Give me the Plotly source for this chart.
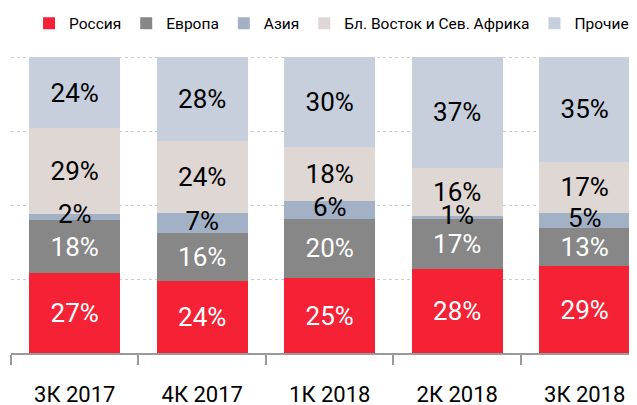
import plotly.graph_objects as go

# Datos (porcentajes por trimestre)
quarters = ['3К 2017', '4К 2017', '1К 2018', '2К 2018', '3К 2018']
russia = [27, 24, 25, 28, 29]
europe = [18, 16, 20, 17, 13]
asia = [2, 7, 6, 1, 5]
mena = [29, 24, 18, 16, 17]
other = [24, 28, 30, 37, 35]

series = [
    ('Россия', russia, '#F52236', '#ffffff'),
    ('Европа', europe, '#878787', '#ffffff'),
    ('Азия', asia, '#A3B1C7', '#000000'),
    ('Бл. Восток и Сев. Африка', mena, '#DED7D4', '#000000'),
    ('Прочие', other, '#C7CFDD', '#000000'),
]

FONT = 'Roboto, Noto Sans, sans-serif'

fig = go.Figure()
for name, vals, color, txtcolor in series:
    # la etiqueta de Азия se dibuja aparte para que quede encima
    fig.add_trace(go.Bar(
        x=quarters,
        y=vals,
        name=name,
        marker=dict(color=color, line=dict(width=0)),
        text=None if name == 'Азия' else [f'{v}%' for v in vals],
        textposition='inside',
        insidetextanchor='middle',
        textangle=0,
        insidetextfont=dict(color=txtcolor, size=26, family=FONT),
    ))

# posición (normalizada al 100%) del centro del segmento Азия
totals = [a + b + c + d + e for a, b, c, d, e in zip(russia, europe, asia, mena, other)]
asia_mid = [100 * (r + e + a / 2) / t for r, e, a, t in zip(russia, europe, asia, totals)]
fig.add_trace(go.Scatter(
    x=quarters,
    y=asia_mid,
    mode='text',
    text=[f'{v}%' for v in asia],
    textposition='middle center',
    textfont=dict(color='#000000', size=26, family=FONT),
    showlegend=False,
    hoverinfo='skip',
))

fig.update_layout(
    width=637,
    height=405,
    margin=dict(l=3, r=8, t=48, b=60, autoexpand=False),
    paper_bgcolor='#ffffff',
    plot_bgcolor='#ffffff',
    barmode='stack',
    barnorm='percent',
    bargap=0.286,
    font=dict(family=FONT, color='#000000'),
    uniformtext=dict(minsize=26, mode='show'),
    legend=dict(
        orientation='h',
        xref='container',
        x=0.033, xanchor='left',
        yref='container',
        y=0.961, yanchor='middle',
        font=dict(size=15.5, family=FONT, color='#000000'),
        traceorder='normal',
        itemclick=False,
    ),
    xaxis=dict(
        range=[-0.5, 4.41],
        showline=True,
        linecolor='#9a9a9a',
        linewidth=2,
        ticks='outside',
        tickson='boundaries',
        ticklen=10,
        tickwidth=2,
        tickcolor='#9a9a9a',
        ticklabelstandoff=21,
        tickfont=dict(size=22, family=FONT, color='#000000'),
        showgrid=False,
    ),
    yaxis=dict(
        range=[0, 100.4],
        tickvals=[0, 25, 50, 75, 100],
        showticklabels=False,
        showgrid=True,
        gridcolor='#cccccc',
        griddash='dot',
        gridwidth=1,
        zeroline=False,
        showline=False,
    ),
)

fig.write_html('out.html')
